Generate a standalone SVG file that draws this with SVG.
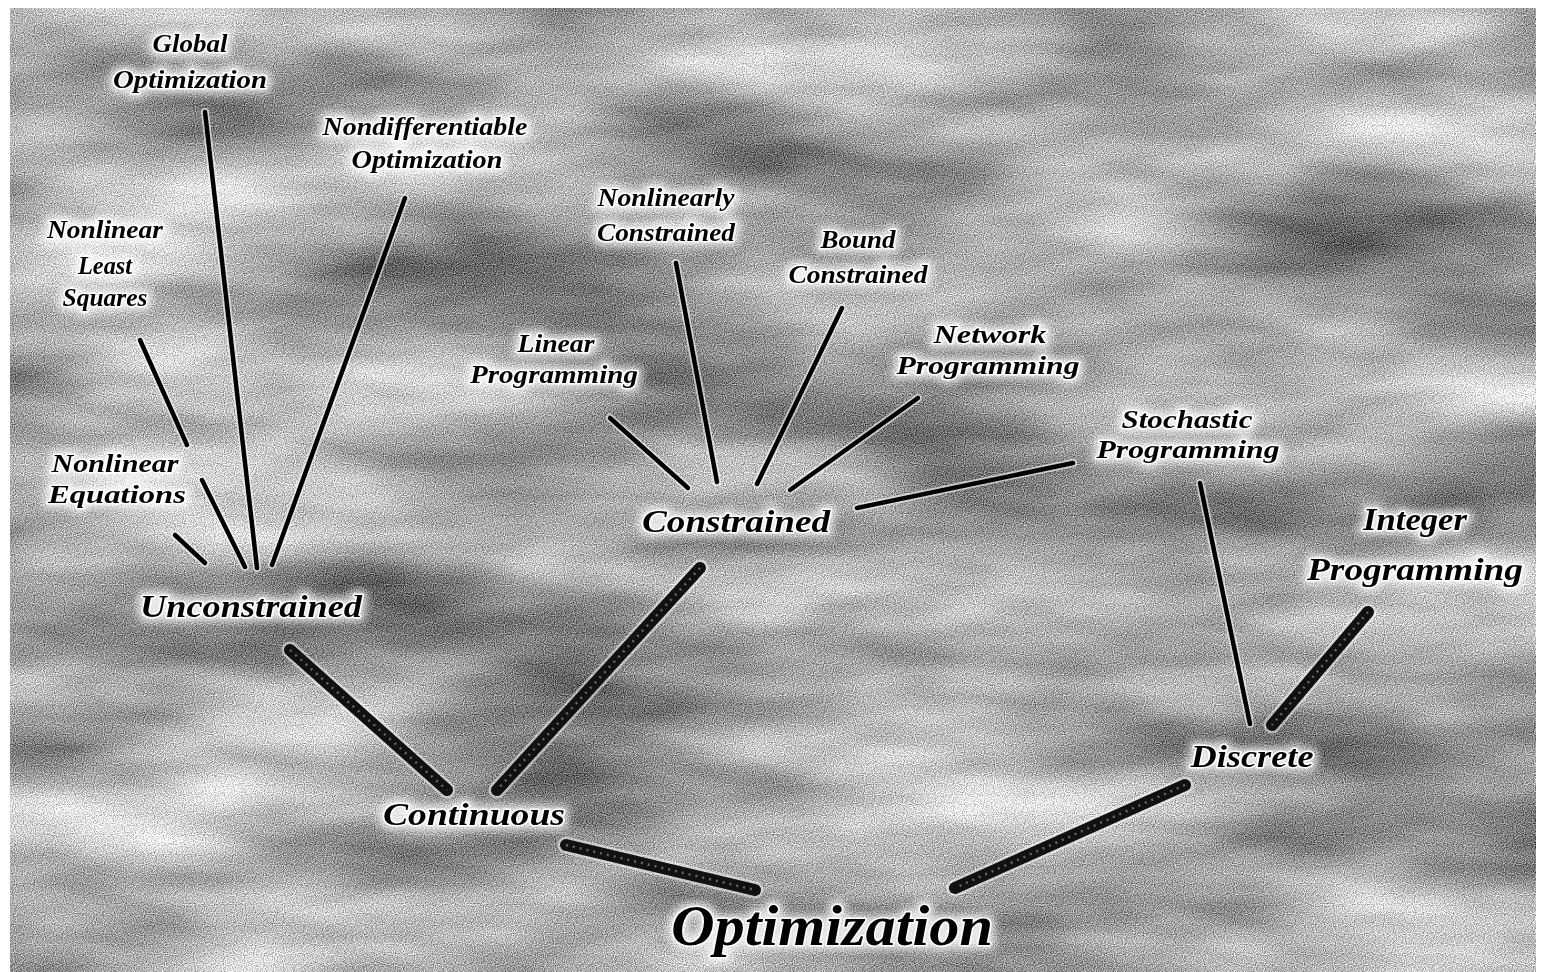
<svg xmlns="http://www.w3.org/2000/svg" xmlns:xlink="http://www.w3.org/1999/xlink" width="1544" height="972" viewBox="0 0 1544 972">
  <defs>
    <filter id="bg" x="10" y="8" width="1526" height="964" filterUnits="userSpaceOnUse" color-interpolation-filters="sRGB">
      <feTurbulence type="fractalNoise" baseFrequency="0.0025 0.009" numOctaves="4" seed="7" result="c"/>
      <feColorMatrix in="c" type="matrix" values="1.0 0 0 0 0.14  1.0 0 0 0 0.14  1.0 0 0 0 0.14  0 0 0 0 1" result="cg"/>
      <feTurbulence type="fractalNoise" baseFrequency="0.9" numOctaves="1" seed="2" result="n"/>
      <feColorMatrix in="n" type="matrix" values="1 0 0 0 0  1 0 0 0 0  1 0 0 0 0  0 0 0 0 1" result="ng"/>
      <feComposite in="cg" in2="ng" operator="arithmetic" k1="0" k2="1" k3="1.1" k4="-0.55"/>
    </filter>
    <filter id="glow" x="-20%" y="-40%" width="140%" height="180%" color-interpolation-filters="sRGB">
      <feMorphology in="SourceAlpha" operator="dilate" radius="3" result="d"/>
      <feGaussianBlur in="d" stdDeviation="4" result="b"/>
      <feFlood flood-color="#ffffff" flood-opacity="0.8"/>
      <feComposite in2="b" operator="in" result="w"/>
      <feMerge><feMergeNode in="w"/><feMergeNode in="SourceGraphic"/></feMerge>
    </filter>
    <path id="c-glob" d="M205,112 L257,568"/>
    <path id="c-nondiff" d="M405,198 L272,565"/>
    <path id="c-nls1" d="M140,340 L187,445"/>
    <path id="c-nls2" d="M202,480 L245,567"/>
    <path id="c-neq" d="M175,535 L205,563"/>
    <path id="c-lin" d="M610,418 L688,488"/>
    <path id="c-nlc" d="M676,263 L717,482"/>
    <path id="c-bnd" d="M842,308 L757,484"/>
    <path id="c-net" d="M918,398 L790,490"/>
    <path id="c-sto" d="M1073,463 L857,508"/>
    <path id="c-sdis" d="M1200,483 L1250,724"/>
    <path id="t-cc" d="M700,568 L497,790"/>
    <path id="t-uc" d="M290,650 L447,790"/>
    <path id="t-idis" d="M1368,612 L1272,725"/>
    <path id="t-co" d="M566,845 L755,890"/>
    <path id="t-do" d="M1185,785 L955,888"/>
  </defs>
  <style>
    .lbl { font-family: "Liberation Serif", "DejaVu Serif", serif; font-style: italic; font-weight: bold; fill: #000; stroke: #fff; stroke-width: 3; paint-order: stroke; stroke-linejoin: round; text-anchor: middle; }
    .s { font-size: 25px; }
    .m { font-size: 32px; }
    .l { font-size: 56px; }
    .halo { fill: none; stroke: #fff; stroke-width: 8; stroke-opacity: 0.6; stroke-linecap: round; }
    .core { fill: none; stroke: #000; stroke-width: 4.5; stroke-linecap: round; }
    .thalo { fill: none; stroke: #fff; stroke-width: 17; stroke-opacity: 0.5; stroke-linecap: round; }
    .thick { fill: none; stroke: #111; stroke-width: 12; stroke-linecap: round; }
    .tin { fill: none; stroke: #666; stroke-width: 2.5; stroke-dasharray: 2 5; }
  </style>

  <rect x="0" y="0" width="1544" height="972" fill="#fff"/>
  <rect x="10" y="8" width="1526" height="964" fill="#999" filter="url(#bg)"/>

  <g id="connectors">
    <use href="#c-glob" class="halo"/><use href="#c-nondiff" class="halo"/><use href="#c-nls1" class="halo"/><use href="#c-nls2" class="halo"/><use href="#c-neq" class="halo"/>
    <use href="#c-lin" class="halo"/><use href="#c-nlc" class="halo"/><use href="#c-bnd" class="halo"/><use href="#c-net" class="halo"/><use href="#c-sto" class="halo"/><use href="#c-sdis" class="halo"/>
    <use href="#t-cc" class="thalo"/><use href="#t-uc" class="thalo"/><use href="#t-idis" class="thalo"/><use href="#t-co" class="thalo"/><use href="#t-do" class="thalo"/>
    <use href="#c-glob" class="core"/><use href="#c-nondiff" class="core"/><use href="#c-nls1" class="core"/><use href="#c-nls2" class="core"/><use href="#c-neq" class="core"/>
    <use href="#c-lin" class="core"/><use href="#c-nlc" class="core"/><use href="#c-bnd" class="core"/><use href="#c-net" class="core"/><use href="#c-sto" class="core"/><use href="#c-sdis" class="core"/>
    <use href="#t-cc" class="thick"/><use href="#t-uc" class="thick"/><use href="#t-idis" class="thick"/><use href="#t-co" class="thick"/><use href="#t-do" class="thick"/>
    <use href="#t-cc" class="tin"/><use href="#t-uc" class="tin"/><use href="#t-idis" class="tin"/><use href="#t-co" class="tin"/><use href="#t-do" class="tin"/>
  </g>

  <g id="global-optimization" filter="url(#glow)">
    <text class="lbl s" x="190" y="52" textLength="75" lengthAdjust="spacingAndGlyphs">Global</text>
    <text class="lbl s" x="190" y="88" textLength="154" lengthAdjust="spacingAndGlyphs">Optimization</text>
  </g>
  <g id="nondifferentiable-optimization" filter="url(#glow)">
    <text class="lbl s" x="425" y="135" textLength="205" lengthAdjust="spacingAndGlyphs">Nondifferentiable</text>
    <text class="lbl s" x="427" y="168" textLength="151" lengthAdjust="spacingAndGlyphs">Optimization</text>
  </g>
  <g id="nonlinear-least-squares" filter="url(#glow)">
    <text class="lbl s" x="105" y="238" textLength="116" lengthAdjust="spacingAndGlyphs">Nonlinear</text>
    <text class="lbl s" x="105" y="274" textLength="54" lengthAdjust="spacingAndGlyphs">Least</text>
    <text class="lbl s" x="105" y="306" textLength="85" lengthAdjust="spacingAndGlyphs">Squares</text>
  </g>
  <g id="nonlinear-equations" filter="url(#glow)">
    <text class="lbl s" x="115" y="472" textLength="127" lengthAdjust="spacingAndGlyphs">Nonlinear</text>
    <text class="lbl s" x="117" y="503" textLength="138" lengthAdjust="spacingAndGlyphs">Equations</text>
  </g>
  <g id="nonlinearly-constrained" filter="url(#glow)">
    <text class="lbl s" x="666" y="206" textLength="137" lengthAdjust="spacingAndGlyphs">Nonlinearly</text>
    <text class="lbl s" x="666" y="241" textLength="138" lengthAdjust="spacingAndGlyphs">Constrained</text>
  </g>
  <g id="bound-constrained" filter="url(#glow)">
    <text class="lbl s" x="858" y="248" textLength="75" lengthAdjust="spacingAndGlyphs">Bound</text>
    <text class="lbl s" x="858" y="283" textLength="139" lengthAdjust="spacingAndGlyphs">Constrained</text>
  </g>
  <g id="linear-programming" filter="url(#glow)">
    <text class="lbl s" x="556" y="352" textLength="77" lengthAdjust="spacingAndGlyphs">Linear</text>
    <text class="lbl s" x="554" y="383" textLength="168" lengthAdjust="spacingAndGlyphs">Programming</text>
  </g>
  <g id="network-programming" filter="url(#glow)">
    <text class="lbl s" x="990" y="343" textLength="113" lengthAdjust="spacingAndGlyphs">Network</text>
    <text class="lbl s" x="988" y="374" textLength="183" lengthAdjust="spacingAndGlyphs">Programming</text>
  </g>
  <g id="stochastic-programming" filter="url(#glow)">
    <text class="lbl s" x="1187" y="428" textLength="131" lengthAdjust="spacingAndGlyphs">Stochastic</text>
    <text class="lbl s" x="1188" y="458" textLength="183" lengthAdjust="spacingAndGlyphs">Programming</text>
  </g>
  <g id="integer-programming" filter="url(#glow)">
    <text class="lbl m" x="1415" y="530" textLength="104" lengthAdjust="spacingAndGlyphs">Integer</text>
    <text class="lbl m" x="1415" y="580" textLength="216" lengthAdjust="spacingAndGlyphs">Programming</text>
  </g>
  <g id="unconstrained" filter="url(#glow)">
    <text class="lbl m" x="251" y="617" textLength="222" lengthAdjust="spacingAndGlyphs">Unconstrained</text>
  </g>
  <g id="constrained" filter="url(#glow)">
    <text class="lbl m" x="736" y="532" textLength="188" lengthAdjust="spacingAndGlyphs">Constrained</text>
  </g>
  <g id="continuous" filter="url(#glow)">
    <text class="lbl m" x="474" y="825" textLength="182" lengthAdjust="spacingAndGlyphs">Continuous</text>
  </g>
  <g id="discrete" filter="url(#glow)">
    <text class="lbl m" x="1252" y="767" textLength="123" lengthAdjust="spacingAndGlyphs">Discrete</text>
  </g>
  <g id="optimization" filter="url(#glow)">
    <text class="lbl l" x="832" y="945" textLength="322" lengthAdjust="spacingAndGlyphs">Optimization</text>
  </g>
</svg>
